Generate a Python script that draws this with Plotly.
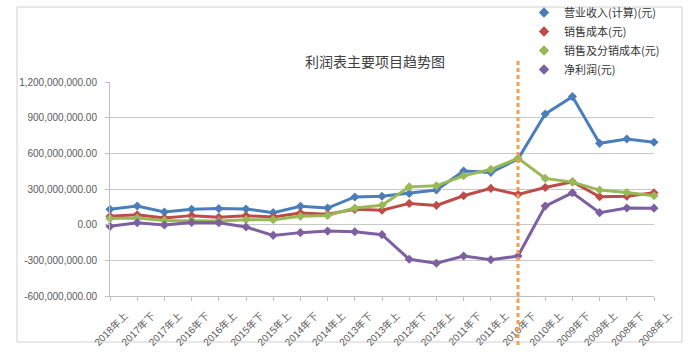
import plotly.graph_objects as go

categories = ["2018年上", "2017年下", "2017年上", "2016年下", "2016年上", "2015年下", "2015年上",
              "2014年下", "2014年上", "2013年下", "2013年上", "2012年下", "2012年上", "2011年下",
              "2011年上", "2010年下", "2010年上", "2009年下", "2009年上", "2008年下", "2008年上"]

revenue = [129, 157, 106, 129, 135, 132, 101, 154, 140, 233, 239, 263, 291, 451, 440, 552, 931, 1077, 684, 720, 693]
cost = [70, 84, 56, 76, 62, 76, 64, 98, 87, 129, 121, 179, 162, 243, 305, 254, 313, 361, 235, 240, 268]
cost_dist = [51, 56, 36, 36, 30, 42, 42, 70, 78, 140, 163, 318, 327, 411, 465, 558, 389, 358, 291, 271, 243]
net_profit = [-14, 17, -3, 19, 17, -20, -90, -67, -54, -59, -84, -291, -325, -264, -295, -264, 156, 268, 101, 140, 139]

series_names = ["营业收入(计算)(元)", "销售成本(元)", "销售及分销成本(元)", "净利润(元)"]
series_values = [revenue, cost, cost_dist, net_profit]
colors = ["#4a7ebb", "#be4b48", "#98b954", "#7d60a0"]

y_ticks = [-600e6, -300e6, 0, 300e6, 600e6, 900e6, 1200e6]
y_ticktext = ["{:,.2f}".format(v) for v in y_ticks]

marker_year = "2010年下"

fig = go.Figure()
for name, vals, col in zip(series_names, series_values, colors):
    fig.add_trace(go.Scatter(
        x=categories, y=[v * 1e6 for v in vals], mode="lines+markers", name=name,
        line=dict(color=col, width=3), marker=dict(symbol="diamond", size=7, color=col),
        showlegend=False, cliponaxis=False))
for name, col in zip(series_names, colors):
    fig.add_trace(go.Scatter(
        x=[None], y=[None], mode="markers", name=name,
        marker=dict(symbol="diamond", size=8, color=col), showlegend=True))

W, H = 692, 352
L, R, T, B = 110, 38, 82, 56
pw, ph = W - L - R, H - T - B

def px_x(p):
    return (p - L) / pw

def px_y(p):
    return (H - B - p) / ph

fig.update_layout(
    width=W, height=H,
    margin=dict(l=L, r=R, t=T, b=B, autoexpand=False),
    paper_bgcolor="white", plot_bgcolor="white",
    font=dict(family="Liberation Sans, Arial, Noto Sans CJK SC", color="#595959"),
    title=dict(text="利润表主要项目趋势图", x=375 / W, xanchor="center",
               y=1 - 62 / H, yanchor="middle",
               font=dict(family="Noto Sans CJK SC", size=14, color="#404040")),
    legend=dict(x=px_x(524), y=px_y(-2), xanchor="left", yanchor="top",
                font=dict(family="Noto Sans CJK SC", size=11, color="#333333"),
                bgcolor="rgba(0,0,0,0)", tracegroupgap=0, itemwidth=30),
    xaxis=dict(type="category", range=[0, len(categories) - 1], tickangle=-45,
               tickfont=dict(size=10, color="#595959", family="Liberation Sans, Noto Sans CJK SC"),
               ticks="outside", ticklen=4, tickcolor="#bfbfbf",
               ticklabelshift=15, ticklabelstandoff=5,
               showline=True, linecolor="#bfbfbf", linewidth=1, showgrid=False,
               automargin=False),
    yaxis=dict(range=[-600e6, 1200e6], tickvals=y_ticks, ticktext=y_ticktext,
               tickfont=dict(size=10, color="#595959"),
               ticks="outside", ticklen=4, tickcolor="#bfbfbf",
               ticklabelstandoff=6,
               showline=True, linecolor="#bfbfbf", linewidth=1,
               showgrid=True, gridcolor="#c8c8c8", gridwidth=1,
               zeroline=False, automargin=False),
)

# vertical dashed marker line
fig.add_shape(type="line", xref="x", yref="paper",
              x0=categories.index(marker_year), x1=categories.index(marker_year),
              y0=px_y(345), y1=px_y(61),
              line=dict(color="#f0a050", width=3, dash="4px,3px"))

# outer chart border
fig.add_shape(type="rect", xref="paper", yref="paper",
              x0=px_x(17), x1=px_x(682), y0=px_y(342), y1=px_y(7),
              line=dict(color="#d0d0d0", width=1), fillcolor="rgba(0,0,0,0)", layer="below")

fig.write_html("out.html")
